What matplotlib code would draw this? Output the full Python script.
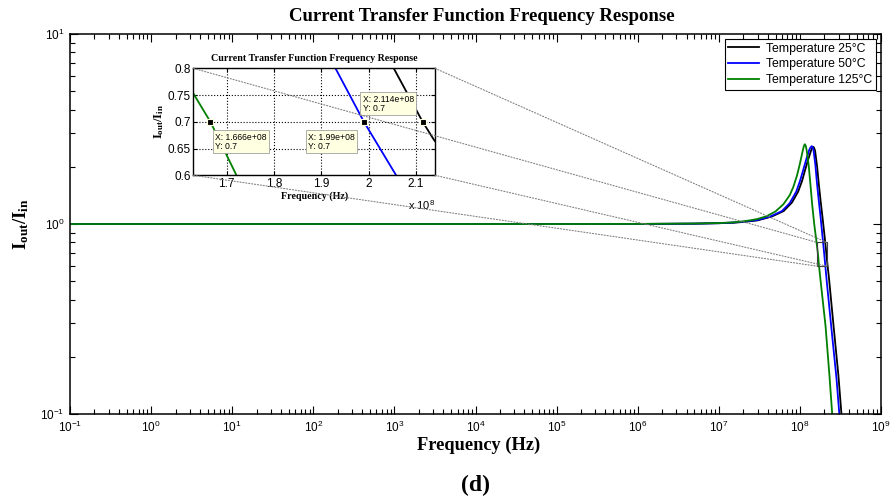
import matplotlib
matplotlib.use('Agg')
import matplotlib.pyplot as plt
import numpy as np
from matplotlib.patches import Rectangle, ConnectionPatch
from matplotlib.ticker import LogLocator, NullFormatter, FixedLocator, FuncFormatter

plt.rcParams['font.family'] = 'Liberation Sans'
plt.rcParams['mathtext.fontset'] = 'custom'
plt.rcParams['mathtext.rm'] = 'Liberation Serif'
plt.rcParams['mathtext.bf'] = 'Liberation Serif:bold'
plt.rcParams['mathtext.it'] = 'Liberation Serif:italic'

# values (frequency in Hz, magnitude Iout/Iin)
freq_25 = [1e-1, 1e3, 1e5, 1e6, 5e6, 1e7, 1.5e7, 2e7, 3e7, 4.5e7, 6.3e7, 8e7, 9.5e7,
           1.06e8, 1.16e8, 1.27e8, 1.37e8, 1.42e8, 1.46e8, 1.50e8, 1.54e8, 1.63e8,
           1.71e8, 1.80e8, 1.91e8, 2.053e8, 2.114e8, 2.138e8, 2.28e8, 2.6e8,
           2.98e8, 3.25e8, 3.7e8, 4.2e8]
mag_25 = [1.0, 1.0, 1.0, 1.001, 1.004, 1.01, 1.016, 1.025, 1.045, 1.095, 1.17, 1.30, 1.48,
          1.68, 1.93, 2.2, 2.43, 2.51, 2.55, 2.51, 2.42, 2.0,
          1.62, 1.32, 1.06, 0.80, 0.70, 0.666, 0.52, 0.29,
          0.16, 0.10, 0.055, 0.03]

freq_50 = [1e-1, 1e3, 1e5, 1e6, 5e6, 1e7, 1.5e7, 2e7, 3e7, 4.3e7, 6e7, 7.5e7, 9e7,
           1.0e8, 1.1e8, 1.2e8, 1.3e8, 1.35e8, 1.40e8, 1.44e8, 1.47e8, 1.55e8,
           1.62e8, 1.70e8, 1.80e8, 1.93e8, 1.99e8, 2.058e8, 2.15e8, 2.45e8,
           2.82e8, 3.06e8, 3.5e8, 4e8]
mag_50 = [1.0, 1.0, 1.0, 1.001, 1.005, 1.01, 1.018, 1.028, 1.05, 1.095, 1.17, 1.29, 1.48,
          1.68, 1.93, 2.2, 2.45, 2.53, 2.57, 2.53, 2.45, 2.05,
          1.65, 1.35, 1.08, 0.80, 0.70, 0.60, 0.49, 0.28,
          0.155, 0.10, 0.055, 0.03]

freq_125 = [1e-1, 1e3, 1e5, 1e6, 5e6, 1e7, 1.5e7, 2e7, 2.5e7, 3e7, 3.9e7, 5e7, 6.25e7,
            7.5e7, 8.3e7, 9.2e7, 1.0e8, 1.08e8, 1.12e8, 1.15e8, 1.18e8, 1.21e8,
            1.28e8, 1.35e8, 1.42e8, 1.50e8, 1.57e8, 1.63e8, 1.666e8, 1.721e8,
            1.80e8, 2.07e8, 2.31e8, 2.5e8, 2.85e8, 3.2e8]
mag_125 = [1.0, 1.0, 1.0, 1.001, 1.006, 1.012, 1.02, 1.033, 1.048, 1.063, 1.10, 1.165, 1.27,
           1.42, 1.57, 1.80, 2.08, 2.42, 2.58, 2.63, 2.58, 2.45,
           2.05, 1.6, 1.25, 1.0, 0.86, 0.753, 0.70, 0.60,
           0.50, 0.29, 0.16, 0.10, 0.052, 0.03]

series_labels = ['Temperature 25°C', 'Temperature 50°C', 'Temperature 125°C']
series_colors = ['k', '#0000ff', '#008000']

# data tips in the zoomed inset
tip_x = [1.666e8, 1.99e8, 2.114e8]
tip_y = [0.7, 0.7, 0.7]

# zoom window
zx0, zx1 = 1.63e8, 2.14e8
zy0, zy1 = 0.6, 0.8

fig = plt.figure(figsize=(8.93, 4.99), dpi=100)
ax = fig.add_axes([0.0784, 0.1703, 0.9082, 0.7615])

curves = [(freq_25, mag_25), (freq_50, mag_50), (freq_125, mag_125)]
for (f, m), lab, col in zip(curves, series_labels, series_colors):
    ax.plot(f, m, color=col, lw=1.3, label=lab)

ax.set_xscale('log')
ax.set_yscale('log')
ax.set_xlim(1e-1, 1e9)
ax.set_ylim(1e-1, 1e1)
ax.xaxis.set_major_locator(LogLocator(base=10, numticks=15))
ax.xaxis.set_minor_locator(LogLocator(base=10, subs=np.arange(2, 10), numticks=200))
ax.xaxis.set_minor_formatter(NullFormatter())
ax.yaxis.set_major_locator(LogLocator(base=10, numticks=15))
ax.yaxis.set_minor_locator(LogLocator(base=10, subs=np.arange(2, 10), numticks=200))
ax.yaxis.set_minor_formatter(NullFormatter())
ax.tick_params(which='both', direction='in', top=True, right=True, labelsize=8.5)
ax.tick_params(which='major', length=6, width=0.8)
ax.tick_params(which='minor', length=3.5, width=0.8)
ax.tick_params(axis='x', pad=4)
ax.tick_params(axis='y', pad=4)
for s in ax.spines.values():
    s.set_linewidth(1.1)

leg = ax.legend(loc='upper right', bbox_to_anchor=(0.994, 0.987), fancybox=False,
                edgecolor='k', framealpha=1, fontsize=8.8, handlelength=2.5,
                borderaxespad=0, borderpad=0.3, labelspacing=0.3, handletextpad=0.6)
leg.get_frame().set_linewidth(0.8)

ax.add_patch(Rectangle((zx0, zy0), zx1 - zx0, zy1 - zy0, fill=False,
                       ec='#404040', lw=0.8, zorder=5))

fig.text(0.539, 0.966, 'Current Transfer Function Frequency Response',
         family='Liberation Serif', weight='bold', fontsize=13.5, ha='center', va='center')
fig.text(0.536, 0.108, 'Frequency (Hz)', family='Liberation Serif', weight='bold',
         fontsize=13.2, ha='center', va='center')
fig.text(0.533, 0.028, '(d)', family='Liberation Serif', weight='bold',
         fontsize=17, ha='center', va='center')
fig.text(0.024, 0.551, r'$\mathbf{I_{out}/I_{in}}$', fontsize=13.5,
         rotation=90, ha='center', va='center')

# inset
axins = fig.add_axes([0.2165, 0.6487, 0.2706, 0.2144])
for (f, m), col in zip(curves, series_colors):
    axins.plot(f, m, color=col, lw=1.3)
axins.set_xlim(zx0, zx1)
axins.set_ylim(zy0, zy1)
axins.xaxis.set_major_locator(FixedLocator([1.7e8, 1.8e8, 1.9e8, 2.0e8, 2.1e8]))
axins.xaxis.set_major_formatter(FuncFormatter(lambda v, p: f'{v / 1e8:g}'))
axins.yaxis.set_major_locator(FixedLocator([0.6, 0.65, 0.7, 0.75, 0.8]))
axins.yaxis.set_major_formatter(FuncFormatter(lambda v, p: f'{v:g}'))
axins.tick_params(direction='in', top=True, right=True, length=3, labelsize=8.5, pad=2)
axins.grid(True, linestyle=':', color='k', linewidth=0.8)
for s in axins.spines.values():
    s.set_linewidth(1.0)
axins.set_title('Current Transfer Function Frequency Response', family='Liberation Serif',
                weight='bold', fontsize=7.2, pad=5)
axins.set_xlabel('Frequency (Hz)', family='Liberation Serif', weight='bold',
                 fontsize=7.2, labelpad=1)
axins.set_ylabel(r'$\mathbf{I_{out}/I_{in}}$', fontsize=9, labelpad=1)
axins.text(1.0, -0.28, r'x $\mathdefault{10^{8}}$', transform=axins.transAxes,
           fontsize=8, ha='right', va='center')

axins.plot(tip_x, tip_y, 's', ms=5, mfc='k', mec='#ffffe1', mew=0.8, zorder=6)
tip_offsets = [((5, -11), 'left', 'top'), ((-9, -11), 'right', 'top'),
               ((-9, 9), 'right', 'bottom')]
for x, y, (off, ha, va) in zip(tip_x, tip_y, tip_offsets):
    axins.annotate(f'X: {x:.4g}\nY: {y:g}', xy=(x, y), xytext=off,
                   textcoords='offset pixels', ha=ha, va=va, fontsize=6.2,
                   multialignment='left', linespacing=1.0, zorder=7,
                   bbox=dict(boxstyle='square,pad=0.3', fc='#ffffe1', ec='#a0a0a0', lw=0.6))

corners = [((0, 1), (zx0, zy1)), ((1, 1), (zx1, zy1)),
           ((0, 0), (zx0, zy0)), ((1, 0), (zx1, zy0))]
for a, b in corners:
    con = ConnectionPatch(xyA=a, coordsA=axins.transAxes, xyB=b, coordsB=ax.transData,
                          color='#808080', linestyle=':', lw=0.8)
    fig.add_artist(con)

fig.savefig('out.png', dpi=100)
